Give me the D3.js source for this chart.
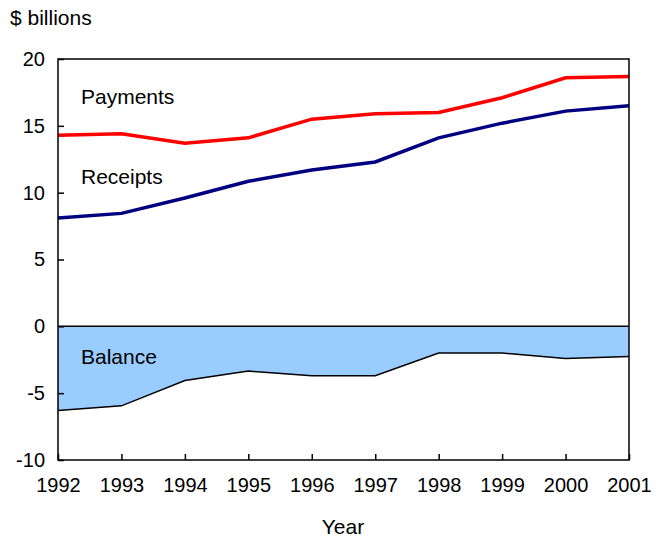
<!DOCTYPE html>
<html><head><meta charset="utf-8">
<script src="https://cdn.jsdelivr.net/npm/d3@7"></script>
<style>body{margin:0;background:#fff}svg text{font-family:"Liberation Sans",Arial,sans-serif;fill:#000}</style>
</head><body><svg id="c" width="664" height="538"></svg>
<script>
const years = [1992,1993,1994,1995,1996,1997,1998,1999,2000,2001];
const payments = [14.3,14.4,13.7,14.1,15.5,15.9,16.0,17.1,18.6,18.7];
const receipts = [8.1,8.45,9.6,10.85,11.7,12.3,14.1,15.2,16.1,16.5];
const balance = [-6.3,-5.95,-4.05,-3.35,-3.7,-3.7,-2.0,-2.0,-2.4,-2.25];
const yTicks = [-10,-5,0,5,10,15,20];

const svg = d3.select("#c");
const L=58,R=629,T=59,B=460;
const x = d3.scaleLinear().domain([1992,2001]).range([L,R]);
const y = d3.scaleLinear().domain([-10,20]).range([B,T]);

// balance area
svg.append("path").datum(years.map((d,i)=>[d,balance[i]]))
  .attr("d", d3.area().x(d=>x(d[0])).y0(y(0)).y1(d=>y(d[1])))
  .attr("fill","#99ccff");
svg.append("path").datum(years.map((d,i)=>[d,balance[i]]))
  .attr("d", d3.line().x(d=>x(d[0])).y(d=>y(d[1])))
  .attr("fill","none").attr("stroke","#000").attr("stroke-width",1.5);
// zero line
svg.append("line").attr("x1",L).attr("x2",R).attr("y1",y(0)).attr("y2",y(0))
  .attr("stroke","#000").attr("stroke-width",1.5);

svg.append("path").datum(years.map((d,i)=>[d,receipts[i]]))
  .attr("d", d3.line().x(d=>x(d[0])).y(d=>y(d[1])))
  .attr("fill","none").attr("stroke","#000080").attr("stroke-width",3.5);
svg.append("path").datum(years.map((d,i)=>[d,payments[i]]))
  .attr("d", d3.line().x(d=>x(d[0])).y(d=>y(d[1])))
  .attr("fill","none").attr("stroke","#ff0000").attr("stroke-width",3.5);

// frame
svg.append("rect").attr("x",L).attr("y",T).attr("width",R-L).attr("height",B-T)
  .attr("fill","none").attr("stroke","#000").attr("stroke-width",1.5);

// axes
const ya = svg.append("g").attr("transform",`translate(${L},0)`)
  .call(d3.axisLeft(y).tickValues(yTicks).tickSize(-6).tickPadding(13).tickFormat(d=>String(d)));
const xa = svg.append("g").attr("transform",`translate(0,${B})`)
  .call(d3.axisBottom(x).tickValues(years).tickSize(-6).tickPadding(18).tickFormat(d=>String(d)));
[ya,xa].forEach(g=>{
  g.select(".domain").remove();
  g.selectAll(".tick line").attr("stroke","#000").attr("stroke-width",1.5);
  g.selectAll(".tick text").attr("font-size",20).attr("font-family","Liberation Sans, Arial, sans-serif").attr("fill","#000");
});

svg.append("text").attr("x",10).attr("y",25).attr("font-size",21).text("$ billions");
svg.append("text").attr("x",343).attr("y",534).attr("font-size",21).attr("text-anchor","middle").text("Year");
svg.append("text").attr("x",81).attr("y",104).attr("font-size",21).text("Payments");
svg.append("text").attr("x",81).attr("y",184).attr("font-size",21).text("Receipts");
svg.append("text").attr("x",81).attr("y",364).attr("font-size",21).text("Balance");
</script></body></html>
